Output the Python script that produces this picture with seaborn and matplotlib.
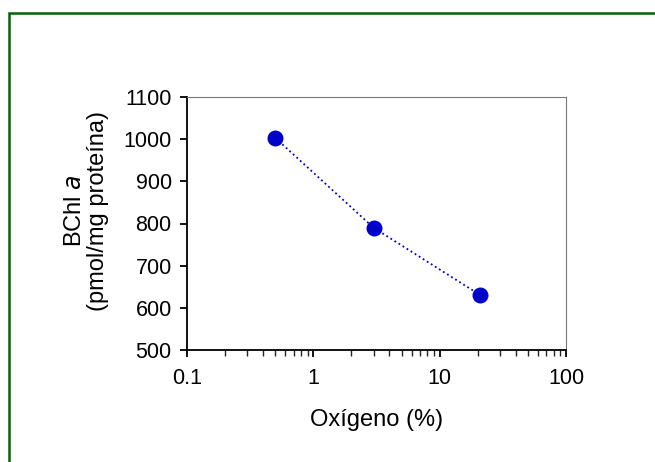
import numpy as np
import pandas as pd
import matplotlib.pyplot as plt
import matplotlib.ticker as mtick
import seaborn as sns
from matplotlib.patches import Rectangle

oxygen = [0.5, 3, 21]
bchl = [1003, 790, 630]
y_ticks = [500, 600, 700, 800, 900, 1000, 1100]
x_ticks = [0.1, 1, 10, 100]
x_tick_labels = ['0.1', '1', '10', '100']

if __name__ == '__main__':
    df = pd.DataFrame({'oxygen': oxygen, 'bchl': bchl})

    sns.set_theme(style="ticks")
    plt.rcParams['font.family'] = ['Liberation Sans', 'DejaVu Sans']

    figure = plt.figure(figsize=(6.55, 4.62), dpi=100)
    ax = figure.add_axes([187 / 655, 1 - 350 / 462, (566 - 187) / 655, (350 - 97) / 462])

    # green frame, runs off the right and bottom edges
    figure.patches.append(Rectangle((9 / 655, -0.1), 1.2, 1 - 13 / 462 + 0.1,
                                    transform=figure.transFigure, fill=False,
                                    edgecolor='#006400', linewidth=1.8, zorder=0))

    sns.lineplot(data=df, x='oxygen', y='bchl', ax=ax, color='#0000C8',
                 linestyle=':', linewidth=1.3, marker='o', markersize=11.5,
                 markeredgewidth=0)

    ax.set_xscale('log')
    ax.set_xlim(0.1, 100)
    ax.set_ylim(500, 1100)
    ax.set_xticks(x_ticks)
    ax.set_xticklabels(x_tick_labels)
    ax.set_yticks(y_ticks)
    ax.xaxis.set_minor_locator(mtick.LogLocator(base=10, subs=np.arange(2, 10)))
    ax.xaxis.set_minor_formatter(mtick.NullFormatter())

    for side in ['left', 'bottom']:
        ax.spines[side].set_linewidth(1.3)
        ax.spines[side].set_color('black')
    for side in ['top', 'right']:
        ax.spines[side].set_linewidth(0.8)
        ax.spines[side].set_color('#777777')

    ax.tick_params(which='major', direction='out', length=5, width=1.3,
                   labelsize=15.5, colors='black', labelcolor='black')
    ax.tick_params(axis='y', which='major', pad=6)
    ax.tick_params(axis='x', which='major', pad=8)
    ax.tick_params(which='minor', direction='out', length=4, width=1.0)
    ax.tick_params(axis='y', which='both', right=False)
    ax.tick_params(axis='x', which='both', top=False)

    ax.set_xlabel('Oxígeno (%)', fontsize=17, color='black')
    ax.set_ylabel('BChl $\\mathit{a}$\n(pmol/mg proteína)', fontsize=17,
                  linespacing=1.1, color='black')
    ax.xaxis.set_label_coords(0.5, -0.235)
    ax.yaxis.set_label_coords(-0.205, 0.55)

    figure.savefig('out.png', dpi=100)
